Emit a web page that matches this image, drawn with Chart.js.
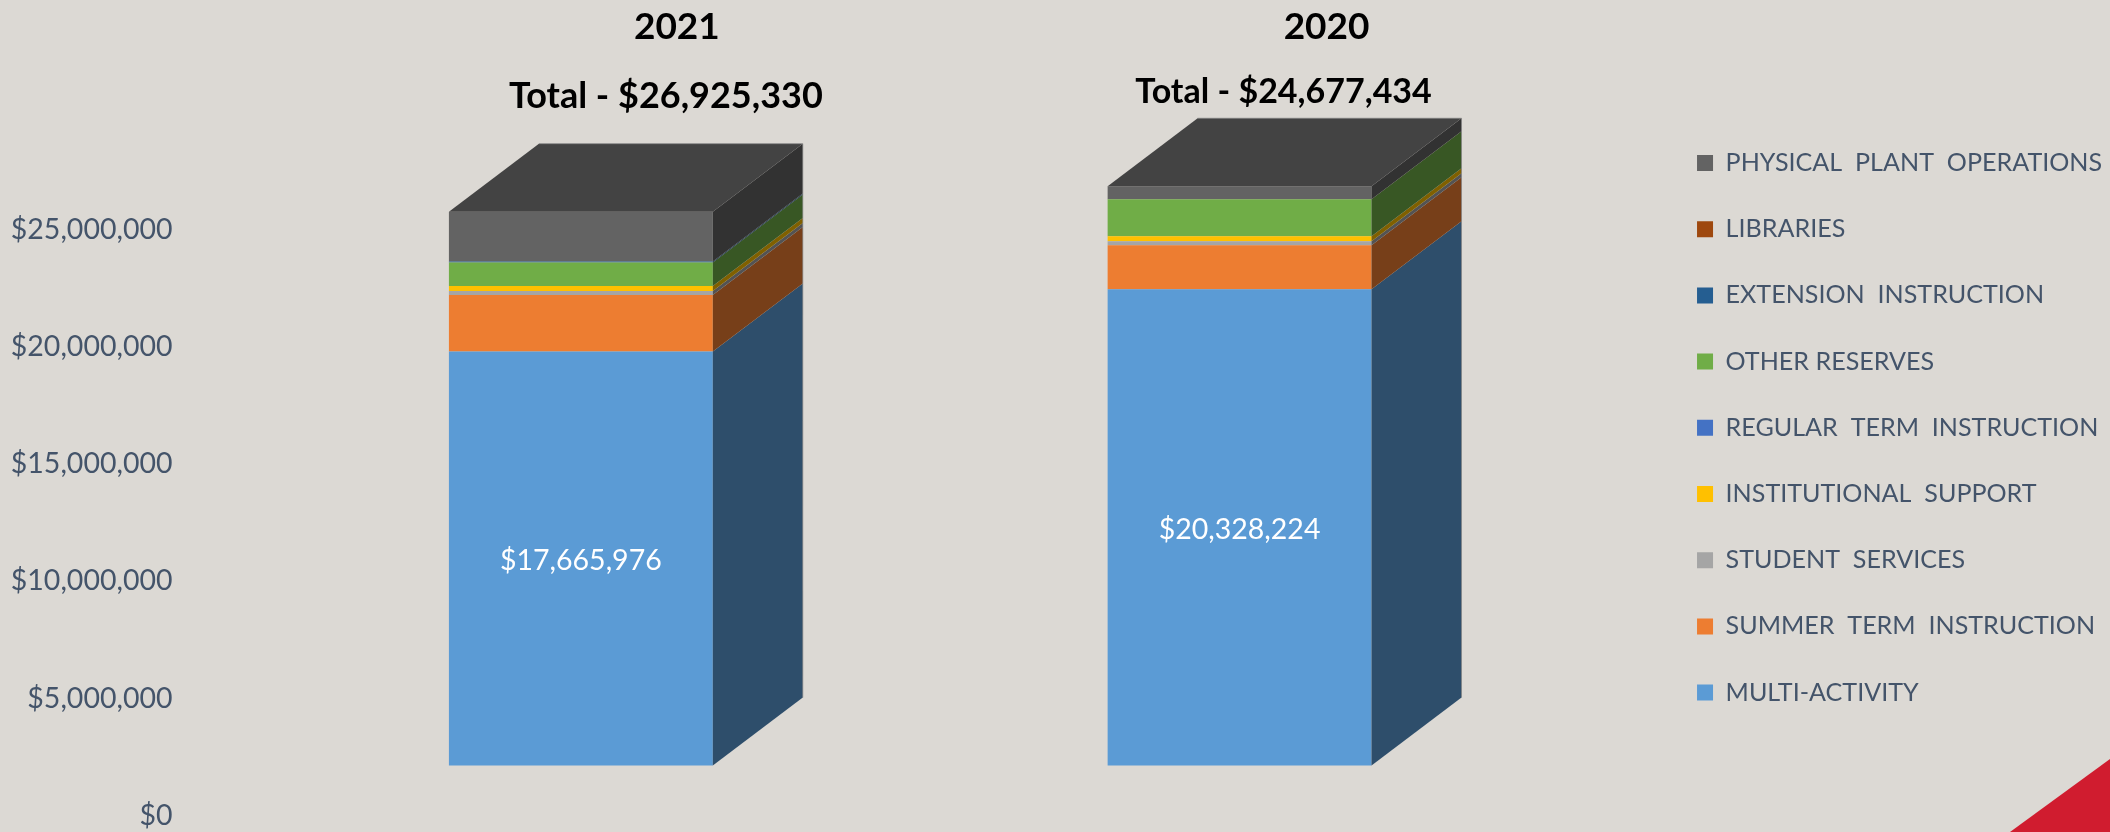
<!DOCTYPE html>
<html>
<head>
<meta charset="utf-8">
<style>
html,body{margin:0;padding:0;background:#DCD9D4;width:2110px;height:832px;overflow:hidden}
#wrap{position:relative;width:2110px;height:832px}
#c{position:absolute;left:0;top:0}
#corner{position:absolute;left:2010px;top:759px;width:100px;height:73px;background:#D01C2F;clip-path:polygon(100% 0,100% 100%,0 100%)}
</style>
<script src="https://cdn.jsdelivr.net/npm/chart.js@4"></script>
</head>
<body>
<div id="wrap"><canvas id="c" width="2110" height="832"></canvas><div id="corner"></div></div>
<script>
const categories = ['2021', '2020'];
const totals = ['Total - $26,925,330', 'Total - $24,677,434'];
const tickValues = [0, 5000000, 10000000, 15000000, 20000000, 25000000];
const seriesNames = ['MULTI-ACTIVITY','SUMMER  TERM  INSTRUCTION','STUDENT  SERVICES','INSTITUTIONAL  SUPPORT','REGULAR  TERM  INSTRUCTION','OTHER RESERVES','EXTENSION  INSTRUCTION','LIBRARIES','PHYSICAL  PLANT  OPERATIONS'];
const multiActivity = [17665976, 20328224];
const summerTerm = [2420000, 1880000];
const studentServices = [170000, 170000];
const institutionalSupport = [210000, 210000];
const regularTerm = [0, 0];
const otherReserves = [1000000, 1580000];
const extensionInstruction = [40000, 0];
const libraries = [0, 0];
const physicalPlant = [2130000, 555000];
const seriesValues = [multiActivity, summerTerm, studentServices, institutionalSupport, regularTerm, otherReserves, extensionInstruction, libraries, physicalPlant];
const seriesColors = ['#5B9BD5','#ED7D31','#A5A5A5','#FFC000','#4472C4','#70AD47','#255E91','#9E480E','#636363'];

const FONT = 'Lato';
const TEXT = '#44546A';
const DEPTH_X = 90, DEPTH_Y = 68;
const PX_PER_UNIT = 23.43 / 1e6;
const TOP = 23.6, BOTTOM = 832, BASE = 765.5, LABEL_BASE = 815.5;

function shade(hex, f){
  const n = parseInt(hex.slice(1), 16);
  return 'rgb(' + [n >> 16, (n >> 8) & 255, n & 255].map(v => Math.round(v * f)).join(',') + ')';
}

const bar3d = {
  id: 'bar3d',
  afterDatasetsDraw(chart){
    const ctx = chart.ctx;
    const n = chart.data.datasets.length;
    ctx.save();
    categories.forEach((cat, j) => {
      for (let i = 0; i < n; i++){
        const el = chart.getDatasetMeta(i).data[j];
        if (Math.abs(el.base - el.y) < 0.01) continue;
        const r = el.x + el.width / 2;
        ctx.fillStyle = shade(seriesColors[i], 0.5);
        ctx.beginPath();
        ctx.moveTo(r, el.base); ctx.lineTo(r + DEPTH_X, el.base - DEPTH_Y);
        ctx.lineTo(r + DEPTH_X, el.y - DEPTH_Y); ctx.lineTo(r, el.y);
        ctx.closePath(); ctx.fill();
      }
      const t = chart.getDatasetMeta(n - 1).data[j];
      const b = chart.getDatasetMeta(0).data[j];
      const l = t.x - t.width / 2, r = t.x + t.width / 2;
      ctx.fillStyle = shade(seriesColors[n - 1], 0.68);
      ctx.beginPath();
      ctx.moveTo(l, t.y); ctx.lineTo(l + DEPTH_X, t.y - DEPTH_Y);
      ctx.lineTo(r + DEPTH_X, t.y - DEPTH_Y); ctx.lineTo(r, t.y);
      ctx.closePath(); ctx.fill();
      ctx.strokeStyle = 'rgba(130,130,130,0.7)';
      ctx.lineWidth = 1;
      ctx.beginPath();
      ctx.moveTo(r + DEPTH_X, b.base - DEPTH_Y);
      ctx.lineTo(r + DEPTH_X, t.y - DEPTH_Y);
      ctx.lineTo(l + DEPTH_X, t.y - DEPTH_Y);
      ctx.stroke();
    });
    ctx.restore();
  }
};

const labels3d = {
  id: 'labels3d',
  afterDraw(chart){
    const ctx = chart.ctx;
    const yearDx = [96, 87], totalDx = [85, 44], totalY = [96, 92.5], totalSize = [36, 34];
    ctx.save();
    ctx.textAlign = 'center';
    ctx.textBaseline = 'middle';
    categories.forEach((cat, j) => {
      const el = chart.getDatasetMeta(0).data[j];
      ctx.fillStyle = '#000';
      ctx.font = 'bold 37px ' + FONT;
      ctx.fillText(cat, el.x + yearDx[j], 27);
      ctx.font = 'bold ' + totalSize[j] + 'px ' + FONT;
      ctx.fillText(totals[j], el.x + totalDx[j], totalY[j]);
      ctx.fillStyle = '#FFFFFF';
      ctx.font = '28.5px ' + FONT;
      ctx.fillText('$' + multiActivity[j].toLocaleString('en-US'), el.x, (el.y + el.base) / 2 + 2);
    });
    ctx.restore();
  }
};

new Chart(document.getElementById('c'), {
  type: 'bar',
  data: {
    labels: categories,
    datasets: seriesNames.map((name, i) => ({
      label: name,
      data: seriesValues[i],
      backgroundColor: seriesColors[i],
      borderWidth: 0,
      barPercentage: 1,
      categoryPercentage: 264 / 659,
      yAxisID: 'y'
    }))
  },
  options: {
    responsive: false,
    animation: false,
    layout: { autoPadding: false, padding: { top: TOP, right: -2.1, bottom: 0, left: 0 } },
    plugins: {
      tooltip: { enabled: false },
      title: { display: false },
      legend: {
        position: 'right',
        reverse: true,
        maxWidth: 600,
        labels: {
          boxWidth: 16, boxHeight: 16,
          padding: 41.1,
          color: TEXT,
          font: { family: FONT, size: 25.1 }
        }
      }
    },
    scales: {
      x: { stacked: true, display: false },
      y: {
        stacked: true, display: false,
        min: -(BOTTOM - BASE) / PX_PER_UNIT,
        max: (BASE - TOP) / PX_PER_UNIT
      },
      yLabels: {
        position: 'left',
        min: -(BOTTOM - LABEL_BASE) / PX_PER_UNIT,
        max: (LABEL_BASE - TOP) / PX_PER_UNIT,
        grid: { display: false, drawTicks: false },
        border: { display: false },
        afterBuildTicks(s){ s.ticks = tickValues.map(v => ({ value: v })); },
        afterFit(s){ s.width = 251.5; s.paddingTop = 0; s.paddingBottom = 0; },
        ticks: {
          color: TEXT, padding: 79,
          font: { family: FONT, size: 28.5 },
          callback: v => '$' + Number(v).toLocaleString('en-US')
        }
      },
      gap: {
        position: 'right',
        grid: { display: false, drawTicks: false },
        border: { display: false },
        ticks: { display: false },
        afterFit(s){ s.width = 87; s.paddingTop = 0; s.paddingBottom = 0; }
      }
    }
  },
  plugins: [bar3d, labels3d]
});
</script>
</body>
</html>
